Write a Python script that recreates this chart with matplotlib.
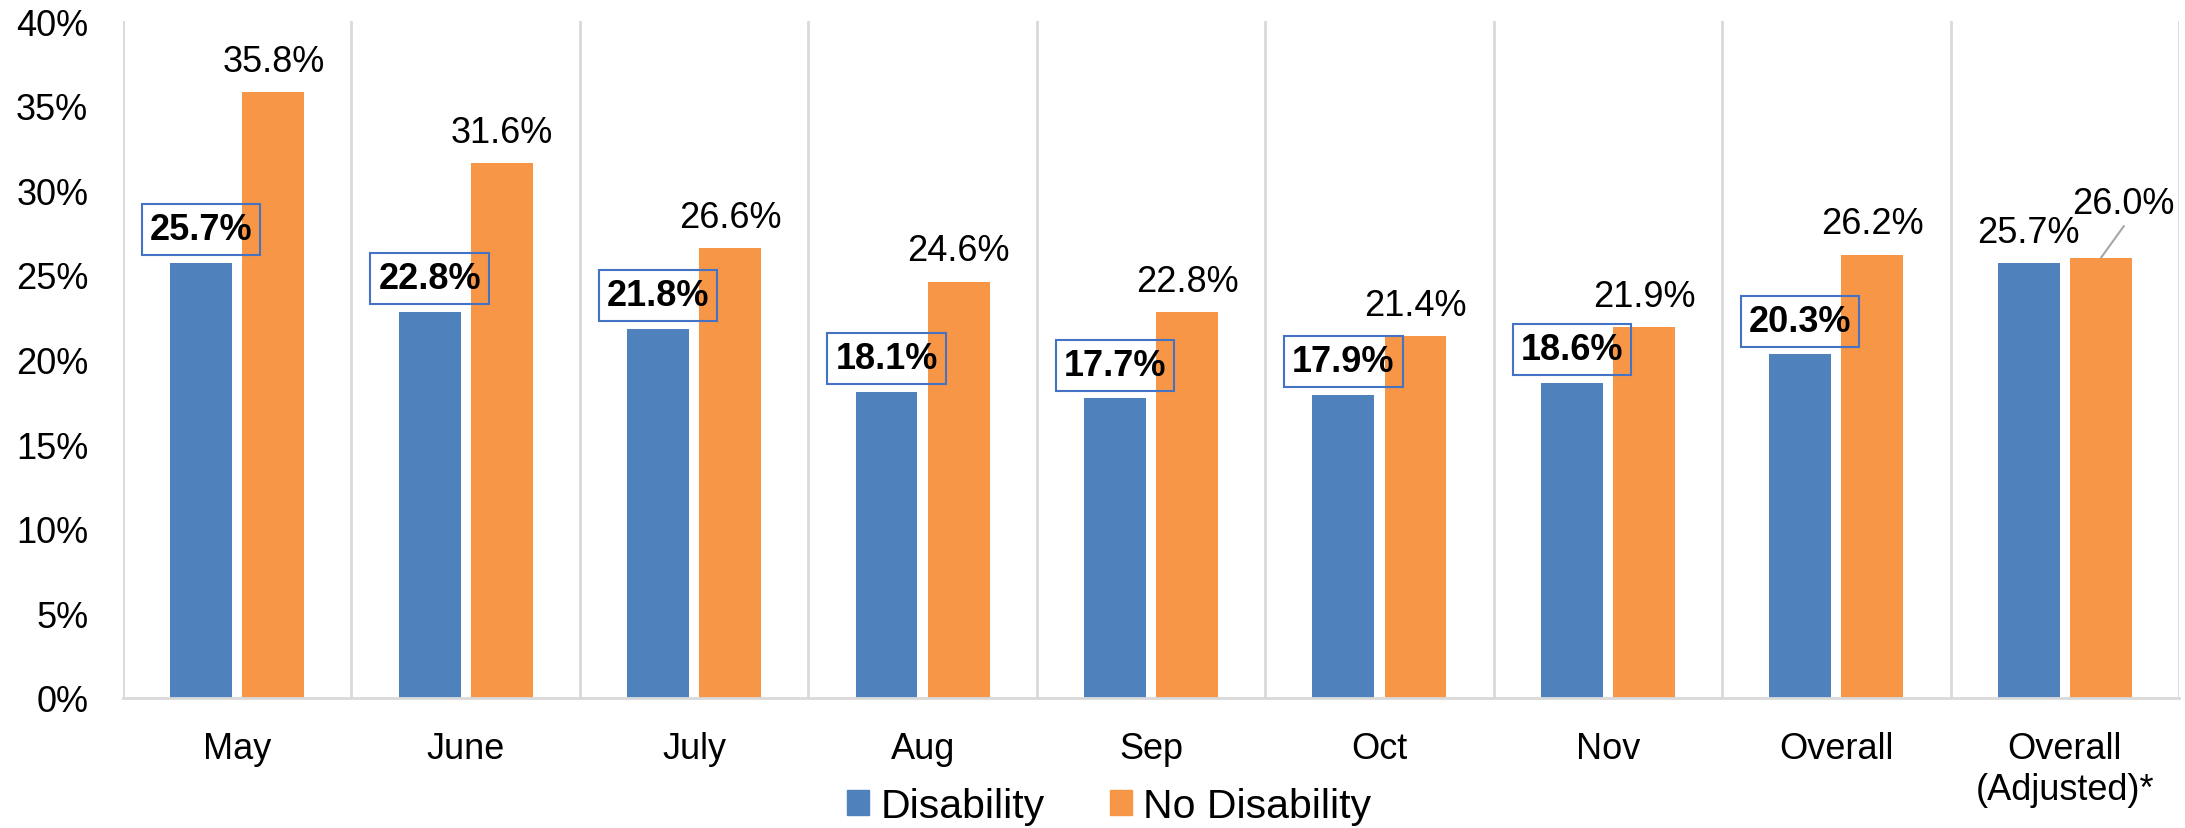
import matplotlib
matplotlib.use("Agg")
import matplotlib.pyplot as plt
import numpy as np
from matplotlib.patches import Patch

plt.rcParams['font.family'] = ['Liberation Sans', 'DejaVu Sans']

categories = ["May", "June", "July", "Aug", "Sep", "Oct", "Nov", "Overall", "Overall\n(Adjusted)*"]
disability = [25.7, 22.8, 21.8, 18.1, 17.7, 17.9, 18.6, 20.3, 25.7]
no_disability = [35.8, 31.6, 26.6, 24.6, 22.8, 21.4, 21.9, 26.2, 26.0]
yticks = [0, 5, 10, 15, 20, 25, 30, 35, 40]

BLUE = "#4F81BD"
ORANGE = "#F79646"
GRID = "#D9D9D9"
BOXC = "#4472C4"

W, H = 2185, 829
fig = plt.figure(figsize=(W / 100, H / 100), dpi=100)
L, R, B, T = 123, 2179, 699, 22
ax = fig.add_axes([L / W, (H - B) / H, (R - L) / W, (B - T) / H])

x = np.arange(len(categories))
bw = 0.271
off = 0.158
ax.bar(x - off, disability, bw, color=BLUE, zorder=2)
ax.bar(x + off, no_disability, bw, color=ORANGE, zorder=2)

FS = 26
ax.set_xlim(-0.5, len(categories) - 0.5)
ax.set_ylim(0, 40)
ax.set_yticks(yticks)
ax.set_yticklabels([f"{v}%" for v in yticks], fontsize=FS)
ax.set_xticks(x)
ax.set_xticklabels(categories, fontsize=FS, linespacing=1.22)
ax.tick_params(axis='both', length=0)
ax.tick_params(axis='y', pad=25)
ax.tick_params(axis='x', pad=24)

for b in np.arange(-0.5, len(categories), 1.0):
    ax.axvline(b, color=GRID, lw=2, zorder=1)
for s in ['left', 'right', 'top']:
    ax.spines[s].set_visible(False)
ax.spines['bottom'].set_color(GRID)
ax.spines['bottom'].set_linewidth(2)

n = len(categories)
for i in range(n):
    d = disability[i]
    o = no_disability[i]
    if i < n - 1:
        ax.annotate(f"{o:.1f}%", xy=(i + off, o), xytext=(0, 9.5), textcoords='offset points',
                    ha='center', va='bottom', fontsize=FS, zorder=4)
        ax.annotate(f"{d:.1f}%", xy=(i - off, d), xytext=(0, 24), textcoords='offset points',
                    ha='center', va='center', fontsize=FS, fontweight='bold', zorder=4,
                    bbox=dict(boxstyle='square,pad=0.22', fc='none', ec=BOXC, lw=1.5))
    else:
        ax.annotate(f"{d:.1f}%", xy=(i - off, d), xytext=(0, 9.5), textcoords='offset points',
                    ha='center', va='bottom', fontsize=FS, zorder=4)
        ax.annotate(f"{o:.1f}%", xy=(i + off, o), xytext=(15.8, 32.4), textcoords='offset points',
                    ha='center', va='baseline', fontsize=FS, zorder=4)
        ax.annotate("", xy=(i + off, o), xytext=(16.6, 23), textcoords='offset points',
                    arrowprops=dict(arrowstyle='-', color='#A6A6A6', lw=1.5,
                                    shrinkA=0, shrinkB=0), zorder=4)

handles = [Patch(color=BLUE, label="Disability"), Patch(color=ORANGE, label="No Disability")]
fig.legend(handles=handles, loc='center left', bbox_to_anchor=(847 / W, (H - 807) / H),
           ncol=2, frameon=False, handlelength=0.54, handleheight=0.54,
           handletextpad=0.27, columnspacing=1.6, borderpad=0, borderaxespad=0,
           prop={'family': ['Liberation Sans', 'DejaVu Sans'], 'size': 29.5})

fig.savefig("out.png", dpi=100)
